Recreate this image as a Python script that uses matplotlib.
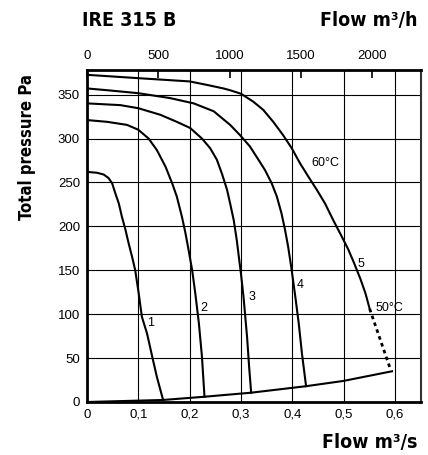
import matplotlib
matplotlib.use("Agg")
import matplotlib.pyplot as plt

# fan curves, flow in m3/s and total pressure in Pa
c1_q = [0.0, 0.0195, 0.0325, 0.042, 0.049, 0.055, 0.062, 0.068, 0.075, 0.081, 0.088,
        0.094, 0.1007, 0.107, 0.117, 0.127, 0.136, 0.148]
c1_p = [262, 261, 259, 255, 249, 238, 226, 211, 196, 181, 165,
        150, 124, 97, 78, 52, 29, 3]

c2_q = [0.0, 0.039, 0.078, 0.1, 0.12, 0.136, 0.153, 0.166, 0.175, 0.185, 0.192, 0.198,
        0.205, 0.211, 0.218, 0.224, 0.229]
c2_p = [321, 319, 315.5, 310, 300, 287, 268, 249, 234, 211, 192, 173,
        150, 124, 90, 52, 6]

c3_q = [0.0, 0.065, 0.1, 0.143, 0.175, 0.201, 0.224, 0.24, 0.253, 0.263, 0.273, 0.279,
        0.286, 0.292, 0.296, 0.3, 0.305, 0.312, 0.316, 0.32]
c3_p = [340, 338, 334.5, 327, 319, 312, 300, 289, 276, 260, 241.5, 226,
        207, 184, 165, 146.5, 120, 74, 40, 10.5]

c4_q = [0.0, 0.039, 0.1, 0.162, 0.208, 0.247, 0.279, 0.298, 0.3175, 0.334, 0.347, 0.36,
        0.37, 0.379, 0.386, 0.392, 0.398, 0.406, 0.4126, 0.419, 0.427]
c4_p = [357, 355, 351.6, 346, 340, 331, 315.5, 304, 291, 276, 264, 249,
        234, 215, 196, 177, 154, 120, 90, 55, 18]

c5_q = [0.0, 0.1, 0.2, 0.234, 0.266, 0.2786, 0.3, 0.324, 0.3435, 0.363, 0.382, 0.399,
        0.415, 0.431, 0.448, 0.464, 0.48, 0.496, 0.509, 0.52, 0.533, 0.5426, 0.551]
c5_p = [372.5, 368.7, 365, 361, 357, 355, 351, 342, 332.6, 319, 304, 289,
        272, 257, 241.5, 226, 207, 189, 174, 159, 140, 124, 106]

c5_dash_q = [0.551, 0.591]
c5_dash_p = [106, 38]

sys_q = [0.0, 0.148, 0.229, 0.32, 0.427, 0.5, 0.5945]
sys_p = [0, 2.3, 6, 10.6, 18, 24, 35]

labels = ["1", "2", "3", "4", "5"]
label_q = [0.123, 0.228, 0.322, 0.415, 0.534]
label_p = [90, 107, 120, 133, 157]

x_ticks = [0, 0.1, 0.2, 0.3, 0.4, 0.5, 0.6]
x_tick_labels = ["0", "0,1", "0,2", "0,3", "0,4", "0,5", "0,6"]
y_ticks = [0, 50, 100, 150, 200, 250, 300, 350]
top_ticks = [0, 500, 1000, 1500, 2000]

plt.rcParams['font.family'] = ['Liberation Sans', 'DejaVu Sans']
bold_font = ['DejaVu Sans']

fig = plt.figure(figsize=(4.28, 4.55), dpi=100)
ax = fig.add_axes([87 / 428, 53 / 455, 334 / 428, 332 / 455])

for q, p in [(c1_q, c1_p), (c2_q, c2_p), (c3_q, c3_p), (c4_q, c4_p), (c5_q, c5_p), (sys_q, sys_p)]:
    ax.plot(q, p, color='black', lw=1.5, solid_joinstyle='round')
ax.plot(c5_dash_q, c5_dash_p, color='black', lw=2, ls=(0, (1.3, 1.3)))

for t, q, p in zip(labels, label_q, label_p):
    ax.text(q, p, t, fontsize=9, ha='center', va='center')
ax.text(0.464, 272, "60°C", fontsize=9, ha='center', va='center')
ax.text(0.59, 107, "50°C", fontsize=9, ha='center', va='center')

ax.set_xlim(0, 0.651)
ax.set_ylim(0, 378)
ax.set_xticks(x_ticks)
ax.set_xticklabels(x_tick_labels)
ax.set_yticks(y_ticks)
ax.tick_params(axis='both', length=0, labelsize=9.5, pad=5)
ax.grid(True, color='black', lw=0.8)
ax.set_axisbelow(True)

for side in ['left', 'bottom', 'top']:
    ax.spines[side].set_linewidth(2)
ax.spines['right'].set_linewidth(1.5)
ax.spines['right'].set_color('#333333')

top = ax.secondary_xaxis('top', functions=(lambda x: x * 3600, lambda x: x / 3600))
top.set_xticks(top_ticks)
top.tick_params(direction='in', length=6, width=1.2, labelsize=9.5, pad=6)
top.spines['top'].set_visible(False)

title_kw = dict(family=bold_font, weight='bold', stretch='condensed', fontsize=14)
fig.text(82 / 428, 1 - 20 / 455, "IRE 315 B", ha='left', va='center', **title_kw)
fig.text(418 / 428, 1 - 20 / 455, "Flow m³/h", ha='right', va='center', **title_kw)
fig.text(418 / 428, 1 - 442 / 455, "Flow m³/s", ha='right', va='center', **title_kw)
fig.text(27 / 428, 1 - 147 / 455, "Total pressure Pa", ha='center', va='center',
         rotation=90, family=bold_font, weight='bold', stretch='condensed', fontsize=12)

fig.savefig("out.png", dpi=100)
